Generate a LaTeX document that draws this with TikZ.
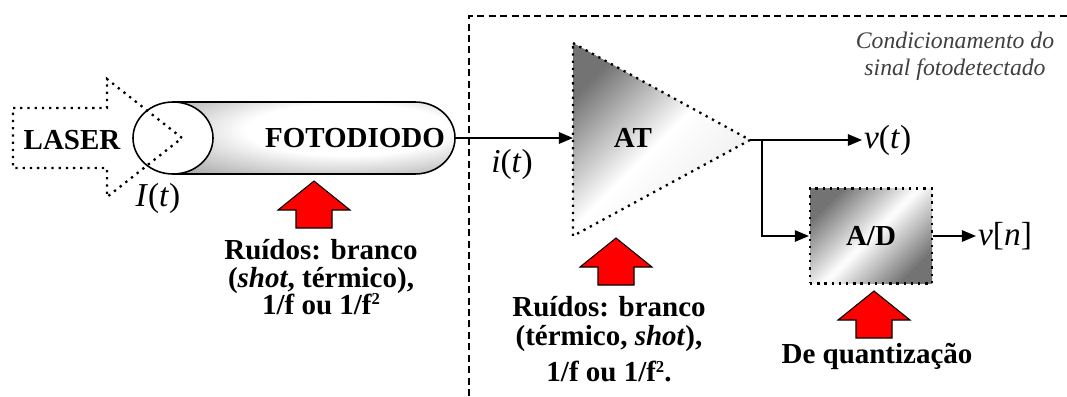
\documentclass[tikz,border=0pt]{standalone}
\usepackage{fontspec}
\setmainfont{Liberation Serif}
\usepackage{xcolor}
\usetikzlibrary{arrows.meta,positioning,calc}
\definecolor{noisered}{RGB}{255, 0, 0}
\definecolor{captiongray}{RGB}{64, 64, 64}
\pgfdeclareradialshading{tubeshade}{\pgfpoint{8bp}{8bp}}{color(0bp)=(white); color(18bp)=(white); color(48bp)=(black!50); color(70bp)=(black!50)}
\newcommand{\sqr}{\raisebox{5.5pt}{\fontsize{9.5}{10}\selectfont 2}}
\setlength{\lineskip}{0.3pt}

\begin{document}
\begin{tikzpicture}[x=0.02cm, y=-0.02cm, >={Triangle[length=8pt,width=6.5pt]},
    dotline/.style={line width=1.3pt, dash pattern=on 1.3pt off 2.8pt},
    wire/.style={line width=0.9pt},
    boldlbl/.style={font=\fontsize{16.5}{13.1}\selectfont\bfseries, inner sep=0pt},
    signal/.style={font=\fontsize{19}{22}\selectfont, inner sep=1pt},
    adbox/.style={boldlbl, draw, dotline, minimum width=2.44cm, minimum height=1.9cm,
        top color=black!55, bottom color=black!55, middle color=white, shading angle=45},
    noise/.style={fill=noisered, draw=black, line width=0.6pt, line join=miter}]
    \useasboundingbox (0,0) rectangle (1067,396);

    % Conditioning frame
    \draw[line width=0.6pt, dash pattern=on 4pt off 2.5pt] (469,396) -- (469,16) -- (1067,16);
    \node[font=\fontsize{13.5}{15.4}\selectfont\itshape, text=captiongray, align=center] (cond) at (955,56) {Condicionamento do\\sinal fotodetectado};

    % Photodiode tube
    \shade[shading=tubeshade] (173,102) -- (415,102) arc[start angle=-90, end angle=90, x radius=40, y radius=36] -- (173,174) -- cycle;
    \draw[wire] (173,102) -- (415,102) arc[start angle=-90, end angle=90, x radius=40, y radius=36] -- (173,174);
    \filldraw[wire, fill=white] (173,138) ellipse [x radius=40, y radius=36];
    \node[boldlbl] (fd) at (355,138) {FOTODIODO};
    \coordinate (fdout) at (455,138);

    % Laser beam
    \draw[dotline, line join=miter] (13,108) -- (107,108) -- (107,79) -- (182,138) -- (107,197) -- (107,168) -- (13,168) -- cycle;
    \node[boldlbl] (laser) at (72,140) {LASER};
    \node[signal] (It) at (158,198) {\textit{I}(\textit{t})};

    % Amplifier
    \coordinate (atA) at (573,43);
    \coordinate (atB) at (573,236);
    \coordinate (atC) at (750,140);
    \shade[top color=black!55, bottom color=black!8, middle color=white, shading angle=45] (atA) -- (atC) -- (atB) -- cycle;
    \draw[dotline] (atA) -- (atC) -- (atB) -- cycle;
    \node[boldlbl] (at) at (633,138) {AT};
    \coordinate (atin) at (573,138);
    \draw[wire, ->] (fdout) -- (atin);
    \node[signal] (it) at (512,164) {\textit{i}(\textit{t})};

    % Outputs
    \node[signal, anchor=west] (vt) at (862,140) {\textit{v}(\textit{t})};
    \draw[wire, ->] (atC) -- (vt.west);
    \node[adbox] (ad) at (871,236) {A/D};
    \coordinate (br) at (762,140);
    \draw[wire, ->] (br) |- (ad.west);
    \node[signal, anchor=west] (vn) at (976,236) {\textit{v}[\textit{n}]};
    \draw[wire, ->] (ad.east) -- (vn.west);

    % Noise sources
    \foreach \x/\y in {314/181, 616/238, 874/291}
        \draw[noise] (\x,\y) -- ++(36,29) -- ++(-18,0) -- ++(0,18) -- ++(-36,0) -- ++(0,-18) -- ++(-18,0) -- cycle;
    \node[boldlbl, align=center, anchor=north] (fdnoise) at (321,239) {Ruídos: branco\\[3pt](\textit{shot}, térmico),\\[-0.5pt]1/f ou 1/f\sqr};
    \node[boldlbl, align=center, anchor=north] (atnoise) at (609,296) {Ruídos: branco\\[3.4pt](térmico, \textit{shot}),\\[5pt]1/f ou 1/f\sqr.};
    \node[boldlbl, anchor=base] (adnoise) at (877,363) {De quantização};
\end{tikzpicture}
\end{document}
